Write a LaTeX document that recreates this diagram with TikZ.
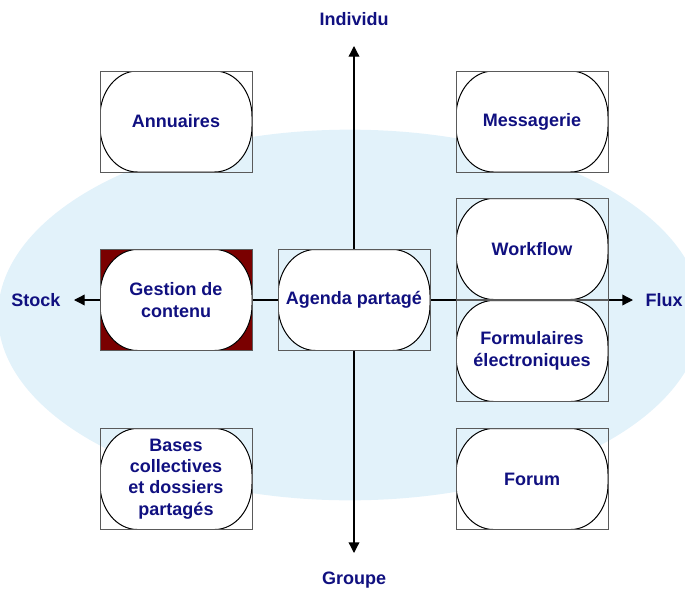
\documentclass[tikz,border=0pt]{standalone}
\usepackage{fontspec}
\setmainfont{Liberation Sans}
\usetikzlibrary{arrows.meta,backgrounds}
\definecolor{navytext}{RGB}{16,16,128}
\definecolor{framegray}{RGB}{90,90,90}
\definecolor{gestionred}{RGB}{122,0,0}
\definecolor{nuageblue}{RGB}{226,242,250}
\tikzset{
    capsule/.style={
        draw=framegray,
        line width=0.6pt,
        minimum width=114pt,
        minimum height=75.75pt,
        inner sep=0pt,
        align=center,
        text=navytext,
        font=\fontsize{13.5}{16}\selectfont\bfseries,
        path picture={
            \draw[black, line width=0.75pt, fill=white]
                ([xshift=28pt]path picture bounding box.north west)
                -- ([xshift=-28pt]path picture bounding box.north east)
                arc[start angle=90, end angle=0, x radius=28pt, y radius=34pt]
                -- ([yshift=34pt]path picture bounding box.south east)
                arc[start angle=0, end angle=-90, x radius=28pt, y radius=34pt]
                -- ([xshift=28pt]path picture bounding box.south west)
                arc[start angle=270, end angle=180, x radius=28pt, y radius=34pt]
                -- ([yshift=-34pt]path picture bounding box.north west)
                arc[start angle=180, end angle=90, x radius=28pt, y radius=34pt]
                -- cycle;
        }
    },
    axislabel/.style={text=navytext, font=\fontsize{13.5}{16}\selectfont\bfseries},
    axe/.style={line width=1pt, -{Triangle[length=8pt,width=8pt]}}
}

\begin{document}
\begin{tikzpicture}[x=0.75pt, y=-0.75pt]
    \useasboundingbox (0,0) rectangle (685,589);

    % les deux axes
    \node[axislabel] (individu) at (354,19) {Individu};
    \node[axislabel] (groupe) at (354,580) {Groupe};
    \node[axislabel] (stock) at (36,300) {Stock};
    \node[axislabel] (flux) at (664,300) {Flux};
    \coordinate (topTip) at (354,46);
    \coordinate (bottomTip) at (354,553);
    \coordinate (stockTip) at (74,300);
    \coordinate (fluxTip) at (633,300);

    % les outils
    \node[capsule] (annuaires) at (176,121.5) {Annuaires};
    \node[capsule] (messagerie) at (532,121.5) {Messagerie};
    \node[capsule, fill=gestionred] (gestion) at (176,300) {Gestion de\\contenu};
    \node[capsule] (agenda) at (354,300) {Agenda partagé};
    \node[capsule] (workflow) at (532,249) {Workflow};
    \node[capsule] (formulaires) at (532,351) {Formulaires\\électroniques};
    \node[capsule] (bases) at (176,479) {Bases\\collectives\\et dossiers\\partagés};
    \node[capsule] (forum) at (532,479) {Forum};

    \begin{scope}[on background layer]
        \fill[nuageblue] (350,315) ellipse [x radius=264pt, y radius=139pt];
        \draw[axe] (agenda.north) -- (topTip);
        \draw[axe] (agenda.south) -- (bottomTip);
        \draw[axe] (agenda.west) -- (stockTip);
        \draw[axe] (agenda.east) -- (fluxTip);
    \end{scope}
\end{tikzpicture}
\end{document}
